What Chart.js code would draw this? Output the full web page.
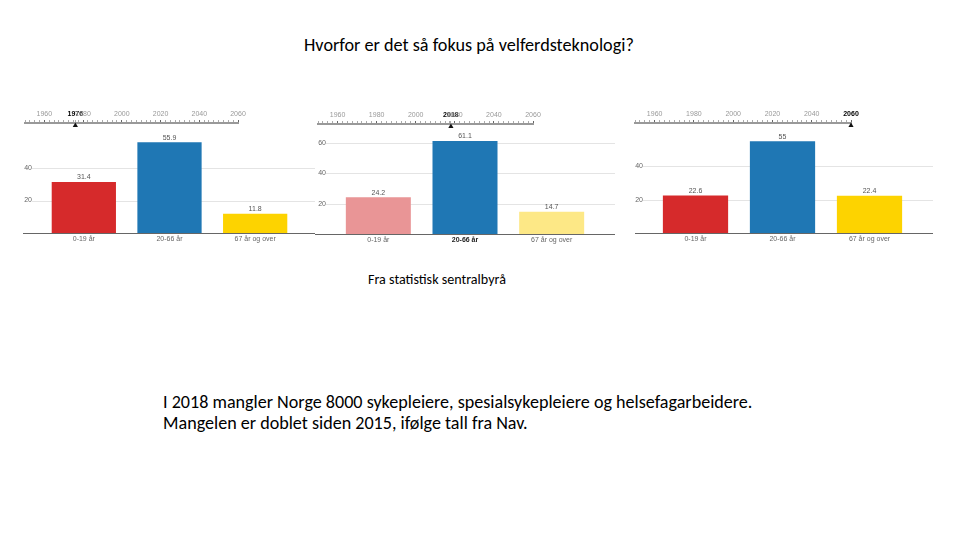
<!DOCTYPE html>
<html>
<head>
<meta charset="utf-8" />
<title>Hvorfor er det så fokus på velferdsteknologi?</title>
<script src="https://cdn.jsdelivr.net/npm/chart.js@4.4.1/dist/chart.umd.min.js"></script>
<style>
    body, html {
        margin: 0;
        padding: 0;
        width: 960px;
        height: 540px;
        background: white;
        overflow: hidden;
        font-family: Carlito, Lato, sans-serif;
    }
    .txt { position: absolute; white-space: nowrap; color: #000; line-height: 1; }
    canvas { position: absolute; display: block; }
</style>
</head>
<body>
<div class="txt" style="left:304px; top:36px; font-size:18.2px;">Hvorfor er det så fokus på velferdsteknologi?</div>
<div class="txt" style="left:368px; top:273px; font-size:14.1px;">Fra statistisk sentralbyrå</div>
<div class="txt" style="left:163px; top:393px; font-size:18.1px;">I 2018 mangler Norge 8000 sykepleiere, spesialsykepleiere og helsefagarbeidere.</div>
<div class="txt" style="left:163px; top:414px; font-size:18.1px;">Mangelen er doblet siden 2015, ifølge tall fra Nav.</div>

<canvas id="line1" width="237" height="28" style="left:13px; top:104px;"></canvas>
<canvas id="bars1" width="296" height="120" style="left:20px; top:130px;"></canvas>
<canvas id="line2" width="239" height="28" style="left:306px; top:105px;"></canvas>
<canvas id="bars2" width="304" height="120" style="left:312px; top:130px;"></canvas>
<canvas id="line3" width="240" height="28" style="left:623px; top:104px;"></canvas>
<canvas id="bars3" width="302" height="120" style="left:632px; top:130px;"></canvas>

<script>
    // data (share of population in %)
    const ageGroups = ['0-19 år', '20-66 år', '67 år og over'];
    const years = [1976, 2018, 2060];
    const share1976 = [31.4, 55.9, 11.8];
    const share2018 = [24.2, 61.1, 14.7];
    const share2060 = [22.6, 55, 22.4];
    const yTicks = [0, 20, 40, 60];
    const timelineYears = [1960, 1980, 2000, 2020, 2040, 2060];
    const timelineStart = 1950;
    const timelineEnd = 2060;

    const strongColors = ['#d62a2b', '#1f77b4', '#fdd300'];
    const paleColors = ['#e99596', '#1f77b4', '#fde886'];

    // layout of each panel: canvas rect and wanted plot box (page pixels)
    const panels = [
        { id: 'bars1', line: 'line1', year: years[0], values: share1976, colors: strongColors, bold: -1, yMax: 59.9,
          canvas: { left: 20, top: 130, right: 316, bottom: 250 }, plot: { left: 41, right: 298, top: 135.8, bottom: 233 },
          lineBox: { left: 13, top: 104, right: 250 }, lineY: 123 },
        { id: 'bars2', line: 'line2', year: years[1], values: share2018, colors: paleColors, bold: 1, yMax: 65,
          canvas: { left: 312, top: 130, right: 616, bottom: 250 }, plot: { left: 335, right: 595, top: 135, bottom: 234.3 },
          lineBox: { left: 306, top: 105, right: 545 }, lineY: 124 },
        { id: 'bars3', line: 'line3', year: years[2], values: share2060, colors: strongColors, bold: -1, yMax: 58,
          canvas: { left: 632, top: 130, right: 934, bottom: 250 }, plot: { left: 652, right: 913, top: 136.2, bottom: 233.3 },
          lineBox: { left: 623, top: 104, right: 863 }, lineY: 123 }
    ];

    // grid lines and baseline run past the plot box, like in the screenshots
    const wideGrid = {
        id: 'wideGrid',
        beforeDatasetsDraw(chart) {
            const ctx = chart.ctx;
            const y = chart.scales.y;
            const left = chart.chartArea.left - 9;
            ctx.save();
            ctx.lineWidth = 1;
            ctx.strokeStyle = '#e4e4e4';
            y.ticks.forEach(t => {
                if (t.value <= 0) return;
                const py = Math.round(y.getPixelForValue(t.value)) + 0.5;
                ctx.beginPath();
                ctx.moveTo(left, py);
                ctx.lineTo(chart.width - 1, py);
                ctx.stroke();
            });
            ctx.restore();
        },
        afterDatasetsDraw(chart) {
            const ctx = chart.ctx;
            const y = chart.scales.y;
            const py = Math.round(y.getPixelForValue(0)) + 0.5;
            ctx.save();
            ctx.strokeStyle = '#666';
            ctx.lineWidth = 1;
            ctx.beginPath();
            ctx.moveTo(3, py);
            ctx.lineTo(chart.width - 1, py);
            ctx.stroke();

            // value labels above the bars
            ctx.fillStyle = '#555';
            ctx.font = '7px "Liberation Sans", Arial, sans-serif';
            ctx.textAlign = 'center';
            ctx.textBaseline = 'bottom';
            const meta = chart.getDatasetMeta(0);
            meta.data.forEach((bar, i) => {
                ctx.fillText(String(chart.data.datasets[0].data[i]), bar.x, bar.y - 1);
            });
            ctx.restore();
        }
    };

    function renderBars(p) {
        const c = p.canvas, b = p.plot;
        const ctx = document.getElementById(p.id).getContext('2d');
        new Chart(ctx, {
            type: 'bar',
            data: {
                labels: ageGroups,
                datasets: [{
                    data: p.values,
                    backgroundColor: p.colors,
                    borderWidth: 0,
                    categoryPercentage: 1,
                    barPercentage: 0.75
                }]
            },
            options: {
                responsive: false,
                animation: false,
                events: [],
                layout: { padding: { top: b.top - c.top, right: c.right - b.right, left: 0, bottom: 0 } },
                plugins: { legend: { display: false }, tooltip: { enabled: false } },
                scales: {
                    x: {
                        grid: { display: false, drawTicks: false },
                        border: { display: false },
                        ticks: {
                            padding: 2,
                            maxRotation: 0,
                            minRotation: 0,
                            color: ctx2 => ctx2.index === p.bold ? '#222' : '#666',
                            font: ctx2 => ({ family: '"Liberation Sans", Arial, sans-serif', size: 7, weight: ctx2.index === p.bold ? 'bold' : 'normal' })
                        },
                        afterFit: s => { s.height = c.bottom - b.bottom; }
                    },
                    y: {
                        min: 0,
                        max: p.yMax,
                        grid: { display: false, drawTicks: true, tickLength: 9 },
                        border: { display: false },
                        afterBuildTicks: s => { s.ticks = yTicks.filter(v => v <= p.yMax).map(v => ({ value: v })); },
                        ticks: {
                            padding: 0,
                            color: '#666',
                            font: { family: '"Liberation Sans", Arial, sans-serif', size: 7 },
                            callback: v => v === 0 ? '' : String(v)
                        },
                        afterFit: s => { s.width = b.left - c.left; }
                    }
                }
            },
            plugins: [wideGrid]
        });
    }

    function renderTimeline(p) {
        const lb = p.lineBox;
        const ctx = document.getElementById(p.line).getContext('2d');
        const marks = [];
        for (let v = timelineStart; v <= timelineEnd; v += 2.5) marks.push(v);
        if (!marks.includes(p.year)) marks.push(p.year);
        marks.sort((a, b) => a - b);

        new Chart(ctx, {
            type: 'scatter',
            data: {
                datasets: [{
                    data: [{ x: p.year, y: 0 }],
                    pointStyle: 'triangle',
                    pointRadius: 3,
                    backgroundColor: '#111',
                    borderWidth: 0,
                    clip: false
                }]
            },
            options: {
                responsive: false,
                animation: false,
                events: [],
                layout: { padding: { left: 12, right: 12, top: 0, bottom: 1 } },
                plugins: { legend: { display: false }, tooltip: { enabled: false } },
                scales: {
                    x: {
                        type: 'linear',
                        position: 'top',
                        min: timelineStart,
                        max: timelineEnd,
                        afterBuildTicks: s => { s.ticks = marks.map(v => ({ value: v })); },
                        afterFit: s => { s.height = p.lineY - lb.top; },
                        grid: {
                            drawOnChartArea: false,
                            tickLength: 3,
                            color: c2 => (c2.tick && timelineYears.includes(c2.tick.value)) ? '#666' : '#aaa'
                        },
                        border: { display: true, color: '#999', width: 2 },
                        ticks: {
                            autoSkip: false,
                            maxRotation: 0,
                            minRotation: 0,
                            padding: 2,
                            color: c2 => (c2.tick && c2.tick.value === p.year) ? '#000' : '#999',
                            font: c2 => ({ family: '"Liberation Sans", Arial, sans-serif', size: 7,
                                           weight: (c2.tick && c2.tick.value === p.year) ? 'bold' : 'normal' }),
                            callback: v => (v === p.year || timelineYears.includes(v)) ? String(v) : ''
                        }
                    },
                    y: { display: false, min: -1, max: 1 }
                }
            }
        });
    }

    panels.forEach(p => { renderTimeline(p); renderBars(p); });
</script>
</body>
</html>
